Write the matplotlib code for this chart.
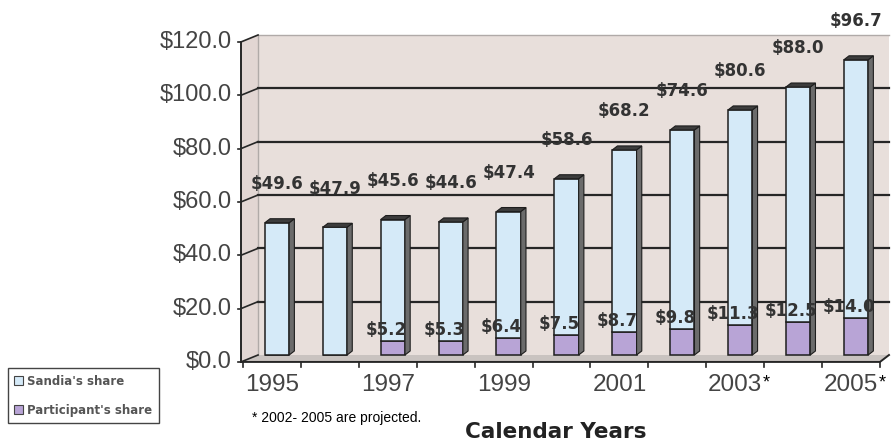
import numpy as np
import matplotlib.pyplot as plt
from matplotlib.patches import Polygon, Rectangle, Patch

# values (millions of dollars)
years = [1995, 1996, 1997, 1998, 1999, 2000, 2001, 2002, 2003, 2004, 2005]
sandia = [49.6, 47.9, 45.6, 44.6, 47.4, 58.6, 68.2, 74.6, 80.6, 88.0, 96.7]
participant = [0.0, 0.0, 5.2, 5.3, 6.4, 7.5, 8.7, 9.8, 11.3, 12.5, 14.0]
labeled_years = [1995, 1997, 1999, 2001, 2003, 2005]
starred_years = [2003, 2005]
yticks = [0, 20, 40, 60, 80, 100, 120]

sandia_col = '#d5eaf8'
part_col = '#b8a4d6'
wall_col = '#e8dfdb'
side_wall_col = '#e2d6d3'
floor_col = '#c9c3c0'
edge = '#1e1e1e'
txt = '#333333'

x = np.arange(len(years))
total = np.array(sandia) + np.array(participant)

fig = plt.figure(figsize=(8.91, 4.46), dpi=100)
ax = fig.add_axes([241 / 891, 1 - 363 / 446, 648 / 891, 328 / 446])
ax.set_xlim(-0.622, 10.57)
ax.set_ylim(-3, 120)
ax.axis('off')

# fake 3d: shift from back wall to front plane, in data units
dx, dy = -0.294, -2.6
wl, wr = -0.328, 10.57
front_right = len(years) - 0.586

# walls and floor
ax.add_patch(Rectangle((wl, 0), wr - wl, 120, fc=wall_col, ec='none', zorder=0))
ax.add_patch(Polygon([(wl + dx, dy), (wl, 0), (wl, 120), (wl + dx, 120 + dy)],
                     closed=True, fc=side_wall_col, ec='none', zorder=0, clip_on=False))
ax.add_patch(Polygon([(wl, 0), (wr, 0), (front_right, dy), (wl + dx, dy)],
                     closed=True, fc=floor_col, ec='none', zorder=1, clip_on=False))
ax.plot([wl, wr], [120, 120], color='#b0aaa8', lw=1, zorder=1, clip_on=False)
ax.plot([wl, wl], [0, 120], color='#b0aaa8', lw=1, zorder=1, clip_on=False)

# gridlines on back and side wall, ticks and labels on front axis
for v in yticks:
    if 0 < v < 120:
        ax.plot([wl, wr], [v, v], color='#262626', lw=1.6, zorder=1, clip_on=False)
    ax.plot([wl + dx, wl], [v + dy, v], color='#262626', lw=1.2, zorder=1, clip_on=False)
    ax.plot([wl + dx - 0.06, wl + dx], [v + dy, v + dy], color='#262626', lw=1.2, clip_on=False)
    ax.text(wl + dx - 0.155, v + dy, f'${v:.1f}', ha='right', va='center',
            fontsize=17, color='#444444', family='Liberation Sans')

ax.plot([wl + dx, wl + dx], [dy, 120 + dy], color='#262626', lw=1.4, zorder=5, clip_on=False)
ax.plot([wl + dx, front_right, wr], [dy, dy, 0], color='#262626', lw=1.4, zorder=5, clip_on=False)
for k in range(len(years) + 1):
    xk = k - 0.586
    ax.plot([xk, xk], [dy, dy - 2], color='#262626', lw=1.2, zorder=5, clip_on=False)

# bars
w = 0.42
sx, sy = 0.09, 1.5
ax.bar(x, participant, width=w, color=part_col, edgecolor=edge, lw=1.1, zorder=3)
ax.bar(x, sandia, bottom=participant, width=w, color=sandia_col, edgecolor=edge, lw=1.1, zorder=3)
for xi, t in zip(x, total):
    r = xi + w / 2
    ax.add_patch(Polygon([(r, 0), (r + sx, sy), (r + sx, t + sy), (r, t)],
                         closed=True, fc='#6b6b6b', ec=edge, lw=0.8, zorder=3))
    ax.add_patch(Polygon([(xi - w / 2, t), (r, t), (r + sx, t + sy), (xi - w / 2 + sx, t + sy)],
                         closed=True, fc='#3c3c3c', ec=edge, lw=0.8, zorder=3, clip_on=False))

# data labels
for xi, t, s in zip(x, total, sandia):
    ax.text(xi, t + 14.5, f'${s:.1f}', ha='center', va='center', fontsize=12,
            fontweight='bold', color=txt, family='DejaVu Sans', zorder=6, clip_on=False)
for xi, p in zip(x, participant):
    if p > 0:
        ax.text(xi - 0.12, p + 4, f'${p:.1f}', ha='center', va='center', fontsize=12,
                fontweight='bold', color=txt, family='DejaVu Sans', zorder=6)

# category labels
for xi, yr in zip(x, years):
    if yr in labeled_years:
        ax.text(xi - 0.086, -11.25, str(yr), ha='center', va='center', fontsize=17.5,
                color='#444444', family='Liberation Sans', clip_on=False)
    if yr in starred_years:
        ax.text(xi - 0.086 + 0.47, -10.5, '*', ha='left', va='center', fontsize=13,
                color='black', family='Liberation Sans', clip_on=False)

fig.text(252 / 891, 1 - 418 / 446, '* 2002- 2005 are projected.', ha='left', va='center',
         fontsize=10, color='black', family='Liberation Sans')
fig.text(556 / 891, 1 - 432 / 446, 'Calendar Years', ha='center', va='center',
         fontsize=15.5, fontweight='bold', color='#222222', family='DejaVu Sans')

handles = [Patch(fc=sandia_col, ec='#444444', lw=0.8, label="Sandia's share"),
           Patch(fc=part_col, ec='#444444', lw=0.8, label="Participant's share")]
leg = fig.legend(handles=handles, loc='lower left', bbox_to_anchor=(8 / 891, 1 - 423 / 446),
                 fancybox=False, edgecolor='#444444', framealpha=1, borderpad=0.55,
                 handlelength=0.7, handleheight=0.7, handletextpad=0.35, labelspacing=1.35,
                 borderaxespad=0, prop={'family': 'DejaVu Sans', 'size': 8.5, 'weight': 'bold'})
for t in leg.get_texts():
    t.set_color('#555555')
leg.get_frame().set_linewidth(1.0)

fig.savefig('out.png', dpi=100)
